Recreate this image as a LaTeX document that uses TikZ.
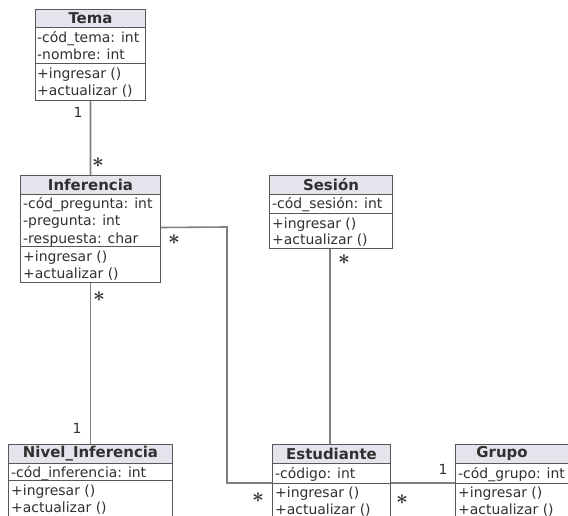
\documentclass[tikz,border=0pt]{standalone}
\usepackage{fontspec}
\setmainfont{DejaVu Sans}
\definecolor{textgray}{HTML}{303030}
\definecolor{boxgray}{HTML}{585858}
\definecolor{headfill}{HTML}{E4E4EC}
\definecolor{linkgray}{HTML}{808080}
\newcommand{\bodysize}{\fontsize{14}{16}\selectfont}
\newcommand{\headsize}{\fontsize{15}{17}\selectfont\bfseries}
\begin{document}
\begin{tikzpicture}[x=1bp,y=-1bp,
  part/.style={draw=boxgray, line width=1bp, inner sep=0pt, anchor=north west, fill=white},
  head/.style={part, fill=headfill, font=\headsize, text=textgray},
  member/.style={anchor=base west, inner sep=0pt, font=\bodysize, text=textgray},
  title/.style={anchor=center, inner sep=0pt, font=\headsize, text=textgray},
  link/.style={draw=linkgray, line width=1.6bp},
  mult/.style={inner sep=0pt, font=\bodysize, text=textgray},
  many/.style={inner sep=0pt, text height=10bp, text depth=0pt,
    font=\fontsize{20}{20}\selectfont\boldmath, text=textgray}]
\useasboundingbox (0,0) rectangle (568,516);
\clip (0,0) rectangle (568,516);

% ---- Tema ----
\node[head, minimum width=110bp, minimum height=18bp] (temah) at (35,9) {Tema};
\node[part, minimum width=110bp, minimum height=36bp] (temaa) at (35,27) {};
\node[part, minimum width=110bp, minimum height=37bp] (temam) at (35,63) {};
\node[member] (tema1) at (37,43) {-cód\_tema: int};
\node[member] (tema2) at (37,60) {-nombre: int};
\node[member] (tema3) at (37,79) {+ingresar ()};
\node[member] (tema4) at (37,96) {+actualizar ()};

% ---- Inferencia ----
\node[head, minimum width=140bp, minimum height=19bp] (infh) at (20,175) {Inferencia};
\node[part, minimum width=140bp, minimum height=52bp] (infa) at (20,194) {};
\node[part, minimum width=140bp, minimum height=36bp] (infm) at (20,246) {};
\node[member] (inf1) at (23,209) {-cód\_pregunta: int};
\node[member] (inf2) at (23,226) {-pregunta: int};
\node[member] (inf3) at (23,243) {-respuesta: char};
\node[member] (inf4) at (23,261) {+ingresar ()};
\node[member] (inf5) at (23,278) {+actualizar ()};

% ---- Sesión ----
\node[head, minimum width=123bp, minimum height=19bp] (sesh) at (269,175) {Sesión};
\node[part, minimum width=123bp, minimum height=19bp] (sesa) at (269,194) {};
\node[part, minimum width=123bp, minimum height=35bp] (sesm) at (269,213) {};
\node[member] (ses1) at (272,209) {-cód\_sesión: int};
\node[member] (ses2) at (272,228) {+ingresar ()};
\node[member] (ses3) at (272,244) {+actualizar ()};

% ---- Nivel_Inferencia ----
\node[head, minimum width=164bp, minimum height=19bp] (nivh) at (8,444) {Nivel\_Inferencia};
\node[part, minimum width=164bp, minimum height=17bp] (niva) at (8,463) {};
\node[part, minimum width=164bp, minimum height=40bp] (nivm) at (8,480) {};
\node[member] (niv1) at (11,477) {-cód\_inferencia: int};
\node[member] (niv2) at (11,495) {+ingresar ()};
\node[member] (niv3) at (11,512) {+actualizar ()};

% ---- Estudiante ----
\node[head, minimum width=118bp, minimum height=19bp] (esth) at (272,444) {Estudiante};
\node[part, minimum width=118bp, minimum height=20bp] (esta) at (272,463) {};
\node[part, minimum width=118bp, minimum height=40bp] (estm) at (272,483) {};
\node[member] (est1) at (275,478) {-código: int};
\node[member] (est2) at (275,497) {+ingresar ()};
\node[member] (est3) at (275,514) {+actualizar ()};

% ---- Grupo (runs past the right edge) ----
\node[part, fill=headfill, minimum width=125bp, minimum height=19bp] (grph) at (455,444) {};
\node[title] (grpt) at (502,454) {Grupo};
\node[part, minimum width=125bp, minimum height=20bp] (grpa) at (455,463) {};
\node[part, minimum width=125bp, minimum height=40bp] (grpm) at (455,483) {};
\node[member] (grp1) at (458,478) {-cód\_grupo: int};
\node[member] (grp2) at (458,497) {+ingresar ()};
\node[member] (grp3) at (458,514) {+actualizar ()};

% ---- associations ----
\coordinate (turn) at (227,227);
\draw[link] (temam.south) -- (infh.north);
\draw[link] (infm.south -| temam.south) -- (nivh.north -| temam.south);
\draw[link] ([yshift=-7bp]infa.east) -- (turn) |- (estm.north west);
\draw[link] (sesm.south -| 330,0) -- (esth.north -| 330,0);
\draw[link] (estm.north east) -- (grpm.north west);

% ---- multiplicities ----
\node[mult] (m1) at (78,112) {1};
\node[many] (m2) at (98,163) {$\ast$};
\node[many] (m3) at (99,296) {$\ast$};
\node[mult] (m4) at (77,428) {1};
\node[many] (m5) at (174,239) {$\ast$};
\node[many] (m6) at (258,497) {$\ast$};
\node[many] (m7) at (344,259) {$\ast$};
\node[many] (m8) at (402,499) {$\ast$};
\node[mult] (m9) at (443,469) {1};
\end{tikzpicture}
\end{document}
